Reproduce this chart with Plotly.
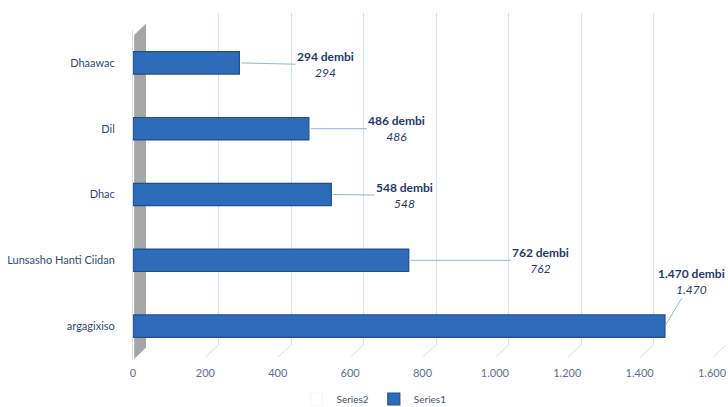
import plotly.graph_objects as go

categories = ["Dhaawac", "Dil", "Dhac", "Lunsasho Hanti Ciidan", "argagixiso"]
values = [294, 486, 548, 762, 1470]
unit = "dembi"
tick_vals = [0, 200, 400, 600, 800, 1000, 1200, 1400, 1600]
# label offsets (pixels) from bar end to label centre
label_dx = [86, 88, 73, 132, 27]
label_dy = [2, 0, 1, 0, -45]

def fmt(v):
    return f"{v:,}".replace(",", ".")

W, H = 728, 407
L, R, T, B = 133, 2, 13, 48
pw = W - L - R
ph = H - T - B

navy = "#1F3A6E"
grid = "#D3E0F2"
bar_col = "#2E6BB8"

fig = go.Figure()

fig.add_trace(go.Bar(
    x=[None], y=[None], name="Series2", orientation="h",
    marker=dict(color="rgba(255,255,255,0)"),
    xaxis="x", yaxis="y", showlegend=True, hoverinfo="skip"))

fig.add_trace(go.Bar(
    x=values, y=categories, orientation="h", name="Series1",
    width=0.34,
    marker=dict(color=bar_col, line=dict(color="#1F4E8C", width=1.2)),
    xaxis="x2", yaxis="y2"))

# back wall (grey) at left
fig.add_shape(type="path", xref="x2 domain", yref="y2 domain", layer="below",
              path="M 0.002,0.0 L 0.002,0.985 L 0.0225,1.02 L 0.0225,0.035 Z",
              fillcolor="#A6A6A6", line=dict(width=0))

# floor perspective lines from back gridlines to front
for tv in tick_vals:
    fig.add_shape(type="line", xref="x", yref="paper",
                  xsizemode="pixel", xanchor=tv, x0=0, x1=-13,
                  y0=(14) / ph, y1=(2) / ph,
                  line=dict(color=grid, width=1), layer="below")

for v, c, dx, dy in zip(values, categories, label_dx, label_dy):
    fig.add_annotation(
        x=v, y=c, xref="x2", yref="y2",
        text=f"<b>{fmt(v)} {unit}</b><br><i>{fmt(v)}</i>",
        showarrow=True, arrowhead=0, arrowwidth=1, arrowcolor="#8FB3E0",
        ax=dx, ay=dy, standoff=2,
        font=dict(family="Lato", size=12, color=navy),
        align="center", bgcolor="rgba(255,255,255,0.85)", borderpad=1)

fig.update_layout(
    width=W, height=H,
    margin=dict(l=L, r=R, t=T, b=B, autoexpand=False),
    paper_bgcolor="white", plot_bgcolor="rgba(0,0,0,0)",
    separators=",.",
    barmode="overlay",
    font=dict(family="Lato", size=11, color="#5B6E95"),
    xaxis=dict(domain=[13 / pw, 1.0], range=[0, 1600], tickvals=tick_vals,
               showgrid=True, gridcolor=grid, gridwidth=1,
               showticklabels=False, zeroline=False, showline=False,
               anchor="y", fixedrange=True, automargin=False),
    yaxis=dict(domain=[14 / ph, 1.0], range=[0, 1], showgrid=False,
               showticklabels=False, zeroline=False, showline=False,
               anchor="x", automargin=False),
    xaxis2=dict(domain=[0, 579 / pw], range=[0, 1600], tickvals=tick_vals,
                tickformat=",d", showgrid=False, zeroline=False,
                showline=False, anchor="y2", automargin=False,
                ticklabelstandoff=6,
                tickfont=dict(family="Lato", size=11, color="#5B6E95")),
    yaxis2=dict(domain=[0, 329 / ph], type="category",
                range=[len(categories) - 0.5, -0.5], anchor="x2",
                showgrid=False, showline=True, linecolor=grid, linewidth=1,
                ticklabelstandoff=15, automargin=False,
                tickfont=dict(family="Lato", size=11, color="#2F4A7A")),
    legend=dict(orientation="h", xref="container", yref="container",
                x=374 / W, xanchor="center",
                y=1 - 399 / H, yanchor="middle",
                font=dict(family="Lato", size=10, color="#44546A"),
                itemwidth=30, traceorder="normal"),
)

fig.write_html("out.html",
               config={"displayModeBar": False},
               post_script="document.body.style.margin='0';"
                           "document.body.style.overflow='hidden';")
